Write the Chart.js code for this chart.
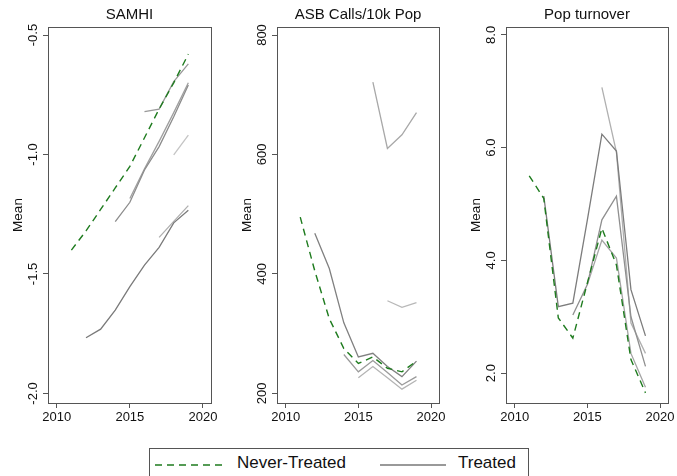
<!DOCTYPE html>
<html>
<head>
<meta charset="utf-8">
<script src="https://cdn.jsdelivr.net/npm/chart.js@4.4.1/dist/chart.umd.min.js"></script>
<style>
  body { margin: 0; background: #fff; width: 677px; height: 476px; overflow: hidden; position: relative; font-family: Arial, "Liberation Sans", sans-serif; }
  canvas { position: absolute; top: 0; }
  #legend { position: absolute; left: 149px; top: 448px; width: 380px; height: 40px; border: 1px solid #555; box-sizing: border-box; }
  #legend svg { position: absolute; top: 14px; }
  #legend span { position: absolute; top: 4px; font-size: 17px; color: #111; }
</style>
</head>
<body>
<canvas id="c1" width="225" height="430" style="left:0px"></canvas>
<canvas id="c2" width="225" height="430" style="left:225px"></canvas>
<canvas id="c3" width="227" height="430" style="left:450px"></canvas>
<div id="legend">
  <svg width="70" height="4" style="left:5px"><line x1="0" y1="2" x2="70" y2="2" stroke="#1e7b1e" stroke-width="1.5" stroke-dasharray="7,5"/></svg>
  <span style="left:87px">Never-Treated</span>
  <svg width="66" height="4" style="left:230px"><line x1="0" y1="2" x2="66" y2="2" stroke="#777" stroke-width="1.5"/></svg>
  <span style="left:308px">Treated</span>
</div>
<script>
const years = [2011, 2012, 2013, 2014, 2015, 2016, 2017, 2018, 2019];
const xTicks = [2010, 2015, 2020];

// SAMHI
const samhiNever = [-1.40, -1.32, -1.23, -1.14, -1.05, -0.93, -0.81, -0.70, -0.58];
const samhiTreated = [
  [null, -1.767, -1.731, -1.651, -1.553, -1.463, -1.389, -1.286, -1.233],
  [null, null, null, null, null, null, -1.347, -1.28, -1.214],
  [null, null, null, -1.281, -1.20, -1.065, -0.967, -0.842, -0.709],
  [null, null, null, null, -1.184, -1.06, -0.945, -0.825, -0.70],
  [null, null, null, null, null, -0.821, -0.810, -0.695, -0.621],
  [null, null, null, null, null, null, null, -1.002, -0.919]
];
const samhiTicks = [-0.5, -1.0, -1.5, -2.0];
const samhiTickLabels = ['-0.5', '-1.0', '-1.5', '-2.0'];

// ASB calls
const asbNever = [495, 405, 325, 275, 250, 261, 242, 236, 254];
const asbTreated = [
  [null, 468, 409, 318, 261, 267, 245, 228, 254],
  [null, null, null, 265, 236, 255, 235, 214, 228],
  [null, null, null, null, 226, 245, 226, 207, 222],
  [null, null, null, null, null, 721, 610, 633, 670],
  [null, null, null, null, null, null, 355, 344, 352]
];
const asbTicks = [800, 600, 400, 200];
const asbTickLabels = ['800', '600', '400', '200'];

// Pop turnover
const popNever = [5.50, 5.10, 2.98, 2.62, 3.60, 4.57, 3.92, 2.24, 1.65];
const popTreated = [
  [null, 5.14, 3.18, 3.24, 4.72, 6.24, 5.94, 3.48, 2.66],
  [null, null, null, 3.03, 3.57, 4.72, 5.14, 3.00, 2.12],
  [null, null, null, null, 3.57, 4.36, 4.04, 2.35, 1.75],
  [null, null, null, null, null, 7.07, 5.92, 2.89, 2.35]
];
const popTicks = [8.0, 6.0, 4.0, 2.0];
const popTickLabels = ['8.0', '6.0', '4.0', '2.0'];

function points(vals) {
  const out = [];
  vals.forEach((v, i) => { if (v !== null) out.push({ x: years[i], y: v }); });
  return out;
}

const framePlugin = {
  id: 'frame',
  afterDraw(chart, args, opts) {
    const ctx = chart.ctx;
    const a = chart.chartArea;
    const y = chart.scales.y;
    ctx.save();
    ctx.strokeStyle = '#555';
    ctx.lineWidth = 1;
    ctx.strokeRect(Math.round(a.left) + 0.5, Math.round(a.top) + 0.5, Math.round(a.right - a.left), Math.round(a.bottom - a.top));
    ctx.fillStyle = '#111';
    ctx.textAlign = 'center';
    ctx.textBaseline = 'middle';
    ctx.font = '15px Arial, "Liberation Sans", sans-serif';
    ctx.fillText(opts.title, (a.left + a.right) / 2, 15);
    ctx.font = '13px Arial, "Liberation Sans", sans-serif';
    opts.ticks.forEach((v, i) => {
      const py = y.getPixelForValue(v);
      ctx.save();
      ctx.translate(a.left - 15, py);
      ctx.rotate(-Math.PI / 2);
      ctx.fillText(opts.labels[i], 0, 0);
      ctx.restore();
    });
    ctx.font = '13.5px Arial, "Liberation Sans", sans-serif';
    ctx.translate(a.left - 30, (a.top + a.bottom) / 2);
    ctx.rotate(-Math.PI / 2);
    ctx.fillText('Mean', 0, 0);
    ctx.restore();
  }
};

function renderPanel(id, title, never, treated, shades, yMin, yMax, yTicks, yLabels, yWidth, padRight) {
  const datasets = [{
    data: points(never),
    borderColor: '#1e7b1e',
    borderDash: [7, 5],
    borderWidth: 1.4
  }];
  treated.forEach((t, i) => {
    datasets.push({ data: points(t), borderColor: shades[i], borderWidth: 1.3 });
  });
  new Chart(document.getElementById(id).getContext('2d'), {
    type: 'line',
    data: { datasets },
    plugins: [framePlugin],
    options: {
      responsive: false,
      animation: false,
      devicePixelRatio: 1,
      layout: { padding: { left: 0, right: padRight, top: 27, bottom: 0 } },
      elements: { point: { radius: 0 }, line: { tension: 0, fill: false } },
      plugins: {
        legend: { display: false },
        tooltip: { enabled: false },
        frame: { title: title, ticks: yTicks, labels: yLabels }
      },
      scales: {
        x: {
          type: 'linear',
          min: 2009.4,
          max: 2020.55,
          afterBuildTicks: s => { s.ticks = xTicks.map(v => ({ value: v })); },
          afterFit: s => { s.height = 27; },
          border: { display: false },
          grid: { drawOnChartArea: false, tickLength: 5, color: '#555' },
          ticks: { callback: v => String(v), color: '#111', padding: 2, maxRotation: 0, font: { size: 13, family: 'Arial' } }
        },
        y: {
          type: 'linear',
          min: yMin,
          max: yMax,
          afterBuildTicks: s => { s.ticks = yTicks.map(v => ({ value: v })); },
          afterFit: s => { s.width = yWidth; },
          border: { display: false },
          grid: { drawOnChartArea: false, tickLength: 5, color: '#555' },
          ticks: { display: false }
        }
      }
    }
  });
}

renderPanel('c1', 'SAMHI', samhiNever, samhiTreated,
  ['#7a7a7a', '#b0b0b0', '#8c8c8c', '#a0a0a0', '#999999', '#c4c4c4'],
  -2.04, -0.4665, samhiTicks, samhiTickLabels, 48, 14);
renderPanel('c2', 'ASB Calls/10k Pop', asbNever, asbTreated,
  ['#808080', '#9a9a9a', '#b4b4b4', '#a8a8a8', '#b8b8b8'],
  183.8, 813.4, asbTicks, asbTickLabels, 52, 11);
renderPanel('c3', 'Pop turnover', popNever, popTreated,
  ['#7c7c7c', '#8f8f8f', '#a4a4a4', '#b0b0b0'],
  1.47, 8.14, popTicks, popTickLabels, 56, 9);
</script>
</body>
</html>
